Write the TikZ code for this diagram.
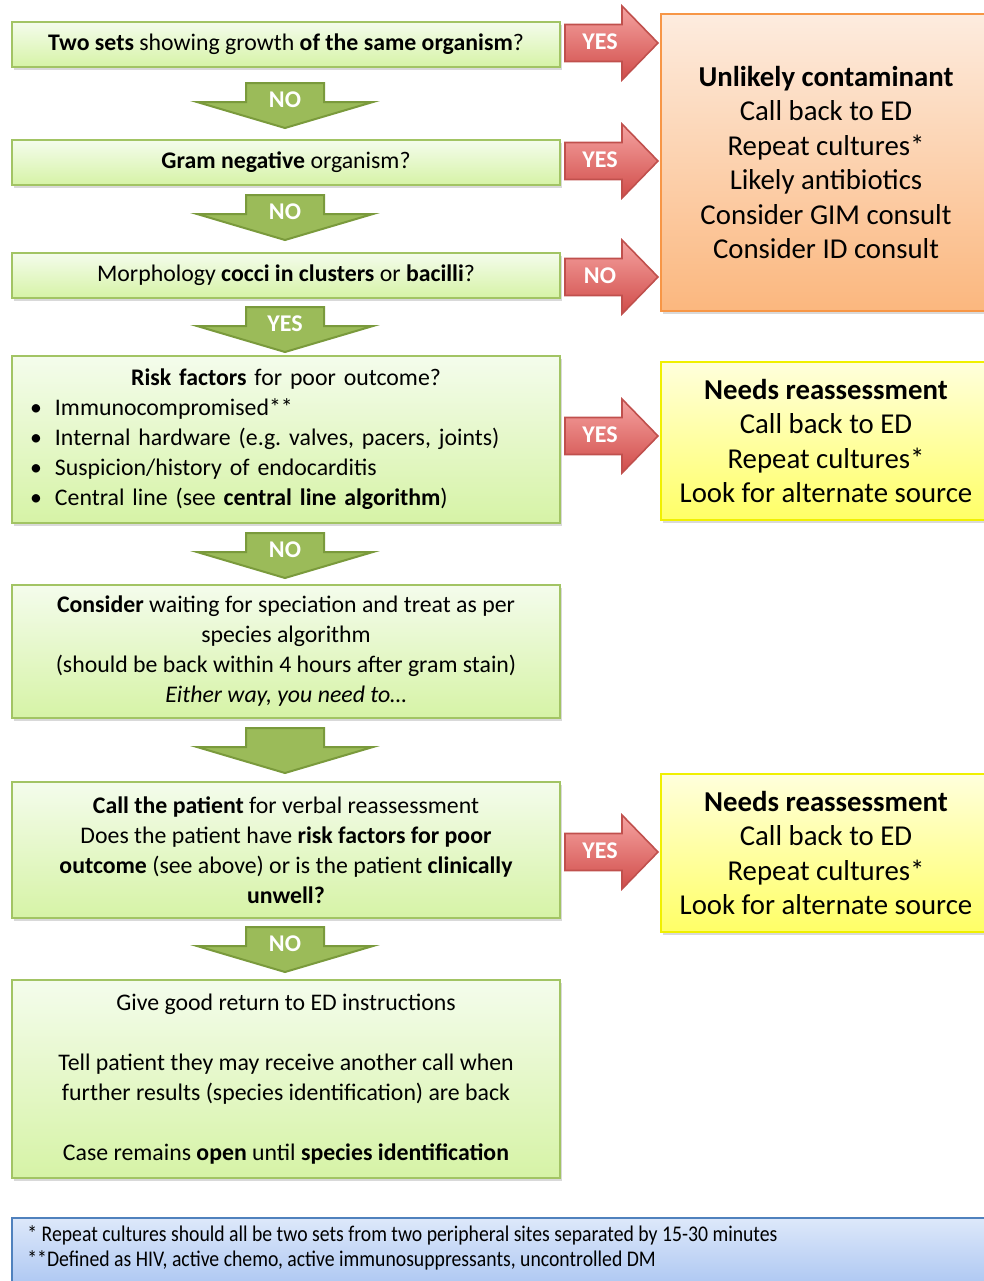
\documentclass[tikz,border=0pt]{standalone}
\usepackage{fontspec}
\setmainfont{Carlito}
\newfontfamily\narrowfont[FakeStretch=0.88]{Carlito}
\usetikzlibrary{shadows}
\frenchspacing
\definecolor{gbtop}{HTML}{F4FCEC}
\definecolor{gbbot}{HTML}{D6F3A6}
\definecolor{gbline}{HTML}{A2C464}
\definecolor{garfill}{HTML}{9BBB59}
\definecolor{garline}{HTML}{7A9A3C}
\definecolor{rtop}{HTML}{F5A3A1}
\definecolor{rbot}{HTML}{D04C49}
\definecolor{rline}{HTML}{C0504D}
\definecolor{otop}{HTML}{FDECDF}
\definecolor{obot}{HTML}{FBB77E}
\definecolor{oline}{HTML}{F79646}
\definecolor{ytop}{HTML}{FFFFDC}
\definecolor{ybot}{HTML}{FFFF66}
\definecolor{yline}{HTML}{F0F000}
\definecolor{btop}{HTML}{DDE8FA}
\definecolor{bbot}{HTML}{A3C0F0}
\definecolor{bline}{HTML}{4F81BD}
\tikzset{
  shad/.style={drop shadow={shadow xshift=1pt,shadow yshift=-1.5pt,opacity=0.3}},
  gbox/.style={draw=gbline, line width=1pt, top color=gbtop, bottom color=gbbot,
    minimum width=274pt, inner sep=0pt, align=center,
    font=\fontsize{11.9}{15}\selectfont, shad},
  obox/.style={draw=oline, line width=1pt, top color=otop, bottom color=obot,
    minimum width=165pt, minimum height=148.5pt, inner sep=0pt, align=center,
    font=\fontsize{14.4}{17.25}\selectfont, shad},
  ybox/.style={draw=yline, line width=1pt, top color=ytop, bottom color=ybot,
    minimum width=165pt, minimum height=79pt, inner sep=0pt, align=center,
    font=\fontsize{14.4}{17.25}\selectfont, shad},
  notebox/.style={draw=bline, line width=0.8pt, top color=btop, bottom color=bbot},
  garrow/.style={draw=garline, line width=1pt, fill=garfill},
  rarrow/.style={draw=rline, line width=0.8pt, top color=rtop, bottom color=rbot},
  alabel/.style={text=white, font=\fontsize{12}{14}\selectfont\bfseries, inner sep=0pt}
}
\newcommand\dnarrow[4]{%
  \draw[garrow] (#1-39,#2) -- (#1+39,#2) -- (#1+39,#2+19) -- (#1+88,#2+19) -- (#1,#2+45)
    -- (#1-88,#2+19) -- (#1-39,#2+19) -- cycle;
  \node[alabel] (#4) at (#1,#2+16.5) {#3};}
\newcommand\rtarrow[3]{%
  \draw[rarrow] (565,#1-18.5) -- (622,#1-18.5) -- (622,#1-37) -- (658,#1) -- (622,#1+37)
    -- (622,#1+18.5) -- (565,#1+18.5) -- cycle;
  \node[alabel] (#3) at (600,#1-1) {#2};}
\newcommand\bul{\hspace*{2pt}\makebox[12.5pt][l]{\textbullet}}
\begin{document}
\begin{tikzpicture}[x=0.5pt,y=-0.5pt]
\useasboundingbox (0,0) rectangle (984,1281);
% left boxes
\node[gbox, minimum height=22.5pt] (b1) at (286,44.5)
  {\textbf{Two sets} showing growth \textbf{of the same organism}?};
\node[gbox, minimum height=22.5pt] (b2) at (286,162.5)
  {\textbf{Gram negative} organism?};
\node[gbox, minimum height=22.5pt] (b3) at (286,275.5)
  {Morphology \textbf{cocci in clusters} or \textbf{bacilli}?};
\node[gbox, minimum height=83.5pt, text width=260pt, align=left] (b4) at (286,439.5)
  {\makebox[260pt]{\textbf{Risk factors} for poor outcome?}\\
   \bul Immunocompromised**\\
   \bul Internal hardware (e.g. valves, pacers, joints)\\
   \bul Suspicion/history of endocarditis\\
   \bul Central line (see \textbf{central line algorithm})};
\node[gbox, minimum height=66.5pt] (b5) at (286,651.5)
  {\textbf{Consider} waiting for speciation and treat as per\\
   species algorithm\\
   (should be back within 4 hours after gram stain)\\
   \textit{Either way, you need to…}};
\node[gbox, minimum height=68pt] (b6) at (286,850)
  {\textbf{Call the patient} for verbal reassessment\\
   Does the patient have \textbf{risk factors for poor}\\
   \textbf{outcome} (see above) or is the patient \textbf{clinically}\\
   \textbf{unwell?}};
\node[gbox, minimum height=99pt] (b7) at (286,1079)
  {Give good return to ED instructions\\[15pt]
   Tell patient they may receive another call when\\
   further results (species identification) are back\\[15pt]
   Case remains \textbf{open} until \textbf{species identification}};
% right boxes
\node[obox] (o1) at (826,162.5)
  {\textbf{Unlikely contaminant}\\
   Call back to ED\\
   Repeat cultures*\\
   Likely antibiotics\\
   Consider GIM consult\\
   Consider ID consult};
\node[ybox] (y1) at (826,441)
  {\textbf{Needs reassessment}\\
   Call back to ED\\
   Repeat cultures*\\
   Look for alternate source};
\node[ybox] (y2) at (826,853)
  {\textbf{Needs reassessment}\\
   Call back to ED\\
   Repeat cultures*\\
   Look for alternate source};
% down arrows
\dnarrow{285}{83}{NO}{d1}
\dnarrow{285}{195}{NO}{d2}
\dnarrow{285}{307}{YES}{d3}
\dnarrow{285}{533}{NO}{d4}
\dnarrow{285}{728}{}{d5}
\dnarrow{285}{927}{NO}{d6}
% right arrows
\rtarrow{43}{YES}{r1}
\rtarrow{161}{YES}{r2}
\rtarrow{277}{NO}{r3}
\rtarrow{436}{YES}{r4}
\rtarrow{852}{YES}{r5}
% footnote
\draw[notebox] (12,1218) rectangle (1000,1300);
\node[anchor=west, align=left, inner sep=0pt,
  font=\narrowfont\fontsize{11.2}{12.5}\selectfont] (fn) at (27,1248)
  {* Repeat cultures should all be two sets from two peripheral sites separated by 15-30 minutes\\
   **Defined as HIV, active chemo, active immunosuppressants, uncontrolled DM};
\end{tikzpicture}
\end{document}
